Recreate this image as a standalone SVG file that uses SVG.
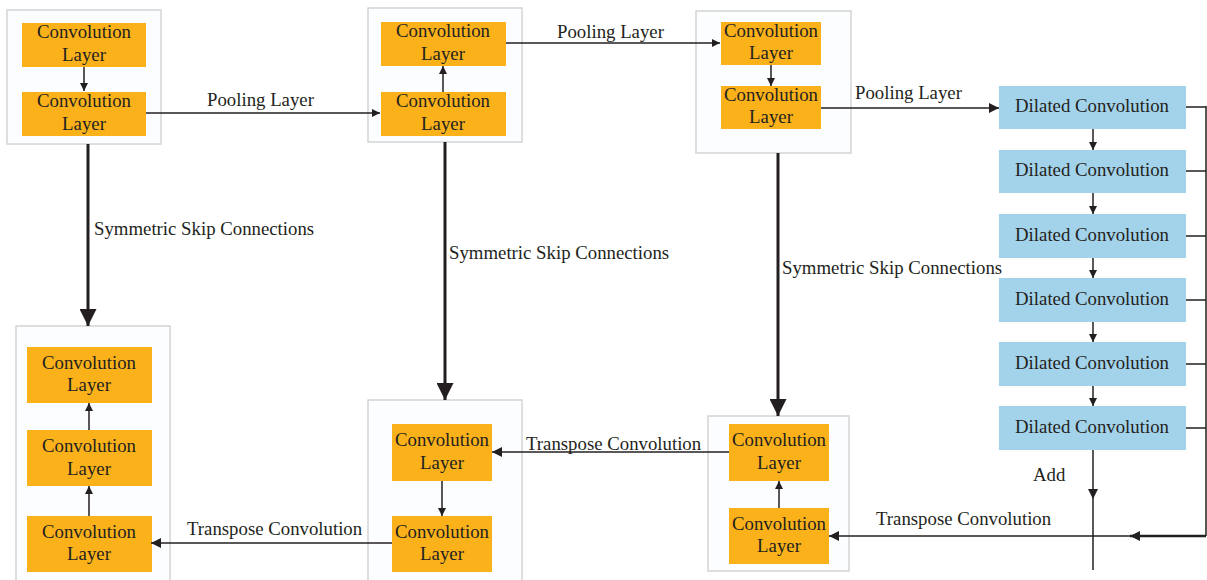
<svg xmlns="http://www.w3.org/2000/svg" width="1207" height="580" viewBox="0 0 1207 580">
  <style>
    .frame { fill: #fbfdfe; stroke: #d4d4d4; stroke-width: 1.5; }
    .conv { fill: #fbb21a; }
    .dil { fill: #a3d3eb; }
    text { font-family: "Liberation Serif", "Times New Roman", serif; font-size: 18.8px; fill: #231f20; }
    .c { text-anchor: middle; }
    .ln { stroke: #231f20; stroke-width: 1.5; fill: none; }
    .thick { stroke: #231f20; stroke-width: 3; fill: none; }
  </style>
  <defs>
    <marker id="ah" viewBox="0 0 10 10" refX="10" refY="5" markerWidth="8" markerHeight="8" markerUnits="userSpaceOnUse" orient="auto">
      <path d="M0,0 L10,5 L0,10 Z" fill="#231f20"/>
    </marker>
    <marker id="ahm" viewBox="0 0 10 10" refX="10" refY="5" markerWidth="10" markerHeight="10" markerUnits="userSpaceOnUse" orient="auto">
      <path d="M0,0 L10,5 L0,10 Z" fill="#231f20"/>
    </marker>
    <marker id="ahb" viewBox="0 0 10 10" refX="10" refY="5" markerWidth="17" markerHeight="17" markerUnits="userSpaceOnUse" orient="auto">
      <path d="M0,0 L10,5 L0,10 Z" fill="#231f20"/>
    </marker>
  </defs>

  <!-- encoder block 1 -->
  <g id="enc1">
    <rect class="frame" x="7" y="10" width="154" height="134"/>
    <rect class="conv" x="22" y="23" width="124" height="44"/>
    <text class="c" x="84" y="38">Convolution</text>
    <text class="c" x="84" y="61">Layer</text>
    <rect class="conv" x="22" y="92" width="124" height="44"/>
    <text class="c" x="84" y="107">Convolution</text>
    <text class="c" x="84" y="130">Layer</text>
  </g>

  <!-- encoder block 2 -->
  <g id="enc2">
    <rect class="frame" x="368" y="8" width="154" height="134"/>
    <rect class="conv" x="381" y="22" width="125" height="44"/>
    <text class="c" x="443" y="37">Convolution</text>
    <text class="c" x="443" y="60">Layer</text>
    <rect class="conv" x="381" y="92" width="125" height="44"/>
    <text class="c" x="443" y="107">Convolution</text>
    <text class="c" x="443" y="130">Layer</text>
  </g>

  <!-- encoder block 3 -->
  <g id="enc3">
    <rect class="frame" x="696" y="11" width="155" height="142"/>
    <rect class="conv" x="721" y="22" width="100" height="43"/>
    <text class="c" x="771" y="37">Convolution</text>
    <text class="c" x="771" y="59">Layer</text>
    <rect class="conv" x="721" y="86" width="100" height="43"/>
    <text class="c" x="771" y="101">Convolution</text>
    <text class="c" x="771" y="123">Layer</text>
  </g>

  <!-- dilated convolution stack -->
  <g id="dilated">
    <rect class="dil" x="999" y="86" width="187" height="43"/>
    <text class="c" x="1092" y="112">Dilated Convolution</text>
    <rect class="dil" x="999" y="150" width="187" height="43"/>
    <text class="c" x="1092" y="176">Dilated Convolution</text>
    <rect class="dil" x="999" y="214" width="187" height="44"/>
    <text class="c" x="1092" y="241">Dilated Convolution</text>
    <rect class="dil" x="999" y="278" width="187" height="44"/>
    <text class="c" x="1092" y="305">Dilated Convolution</text>
    <rect class="dil" x="999" y="342" width="187" height="44"/>
    <text class="c" x="1092" y="369">Dilated Convolution</text>
    <rect class="dil" x="999" y="406" width="187" height="44"/>
    <text class="c" x="1092" y="433">Dilated Convolution</text>
  </g>

  <!-- decoder block 3 -->
  <g id="dec3">
    <rect class="frame" x="708" y="416" width="141" height="155"/>
    <rect class="conv" x="729" y="424" width="100" height="57"/>
    <text class="c" x="779" y="446">Convolution</text>
    <text class="c" x="779" y="469">Layer</text>
    <rect class="conv" x="729" y="508" width="100" height="56"/>
    <text class="c" x="779" y="530">Convolution</text>
    <text class="c" x="779" y="552">Layer</text>
  </g>

  <!-- decoder block 2 -->
  <g id="dec2">
    <rect class="frame" x="368" y="400" width="154" height="190"/>
    <rect class="conv" x="392" y="424" width="100" height="57"/>
    <text class="c" x="442" y="446">Convolution</text>
    <text class="c" x="442" y="469">Layer</text>
    <rect class="conv" x="392" y="516" width="100" height="56"/>
    <text class="c" x="442" y="538">Convolution</text>
    <text class="c" x="442" y="560">Layer</text>
  </g>

  <!-- decoder block 1 -->
  <g id="dec1">
    <rect class="frame" x="16" y="326" width="154" height="264"/>
    <rect class="conv" x="27" y="347" width="125" height="56"/>
    <text class="c" x="89" y="369">Convolution</text>
    <text class="c" x="89" y="391">Layer</text>
    <rect class="conv" x="27" y="430" width="125" height="56"/>
    <text class="c" x="89" y="452">Convolution</text>
    <text class="c" x="89" y="475">Layer</text>
    <rect class="conv" x="27" y="516" width="125" height="56"/>
    <text class="c" x="89" y="538">Convolution</text>
    <text class="c" x="89" y="560">Layer</text>
  </g>

  <!-- connectors -->
  <g id="connectors">
    <!-- inside encoder blocks -->
    <line class="ln" x1="84" y1="67" x2="84" y2="91" marker-end="url(#ah)"/>
    <line class="ln" x1="443" y1="92" x2="443" y2="66" marker-end="url(#ah)"/>
    <line class="ln" x1="771" y1="65" x2="771" y2="86" marker-end="url(#ah)"/>

    <!-- pooling -->
    <line class="ln" x1="146" y1="113" x2="380" y2="113" marker-end="url(#ah)"/>
    <text x="207" y="106">Pooling Layer</text>
    <line class="ln" x1="506" y1="43" x2="720" y2="43" marker-end="url(#ah)"/>
    <text x="557" y="38">Pooling Layer</text>
    <line class="ln" x1="821" y1="108" x2="999" y2="108" marker-end="url(#ahm)"/>
    <text x="855" y="99">Pooling Layer</text>

    <!-- dilated chain -->
    <line class="ln" x1="1093" y1="129" x2="1093" y2="150" marker-end="url(#ah)"/>
    <line class="ln" x1="1093" y1="193" x2="1093" y2="214" marker-end="url(#ah)"/>
    <line class="ln" x1="1093" y1="258" x2="1093" y2="278" marker-end="url(#ah)"/>
    <line class="ln" x1="1093" y1="322" x2="1093" y2="342" marker-end="url(#ah)"/>
    <line class="ln" x1="1093" y1="386" x2="1093" y2="406" marker-end="url(#ah)"/>

    <!-- residual taps into the sum -->
    <path class="ln" d="M1186,107 H1206 M1186,171 H1206 M1186,236 H1206 M1186,300 H1206 M1186,364 H1206 M1186,428 H1206"/>
    <path class="ln" d="M1206,106 V536" stroke-width="2"/>
    <line x1="1206" y1="536" x2="1130" y2="536" stroke="#231f20" stroke-width="2.5" marker-end="url(#ahm)"/>
    <line class="ln" x1="1093" y1="450" x2="1093" y2="499" marker-end="url(#ahm)"/>
    <line class="ln" x1="1093" y1="499" x2="1093" y2="570"/>
    <text x="1033" y="481">Add</text>

    <!-- transpose convolutions -->
    <line class="ln" x1="1130" y1="536" x2="829" y2="536" marker-end="url(#ahm)"/>
    <text x="876" y="525">Transpose Convolution</text>
    <line class="ln" x1="729" y1="452" x2="492" y2="452" marker-end="url(#ahm)"/>
    <text x="526" y="450">Transpose Convolution</text>
    <line class="ln" x1="392" y1="543" x2="151" y2="543" marker-end="url(#ahm)"/>
    <text x="187" y="535">Transpose Convolution</text>

    <!-- inside decoder blocks -->
    <line class="ln" x1="779" y1="508" x2="779" y2="481" marker-end="url(#ah)"/>
    <line class="ln" x1="442" y1="481" x2="442" y2="516" marker-end="url(#ah)"/>
    <line class="ln" x1="89" y1="516" x2="89" y2="486" marker-end="url(#ah)"/>
    <line class="ln" x1="89" y1="430" x2="89" y2="403" marker-end="url(#ah)"/>

    <!-- symmetric skip connections -->
    <line class="thick" x1="88" y1="144" x2="88" y2="326" marker-end="url(#ahb)"/>
    <text x="94" y="235">Symmetric Skip Connections</text>
    <line class="thick" x1="445" y1="142" x2="445" y2="400" marker-end="url(#ahb)"/>
    <text x="449" y="259">Symmetric Skip Connections</text>
    <line class="thick" x1="778" y1="153" x2="778" y2="416" marker-end="url(#ahb)"/>
    <text x="782" y="274">Symmetric Skip Connections</text>
  </g>
</svg>
